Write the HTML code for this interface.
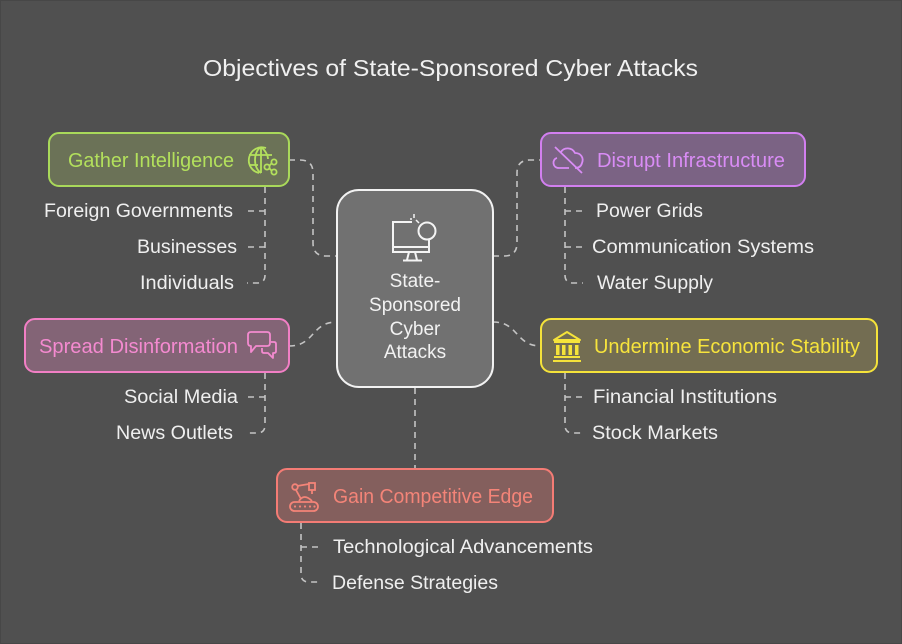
<!DOCTYPE html>
<html><head><meta charset="utf-8"><style>
html,body{margin:0;padding:0;background:#505050;}
svg{display:block;}
text{font-family:"Liberation Sans",Arial,sans-serif;}
</style></head><body>
<svg width="902" height="644" viewBox="0 0 902 644" xmlns="http://www.w3.org/2000/svg">
<rect x="0" y="0" width="902" height="644" fill="#505050"/>
<rect x="0.5" y="0.5" width="901" height="643" fill="none" stroke="#474747" stroke-width="1"/>

<text x="203" y="76" font-size="23" fill="#f0f0f0" textLength="495" lengthAdjust="spacingAndGlyphs">Objectives of State-Sponsored Cyber Attacks</text>

<g fill="none" stroke="#c4c4c4" stroke-width="1.6" stroke-dasharray="6 5">
<path d="M289,160 H300 Q313,160 313,173 V243 Q313,256 326,256 H337"/>
<path d="M493,256 H504 Q517,256 517,243 V173 Q517,160 530,160 H541"/>
<path d="M289,346 C315,346 311,322 337,322"/>
<path d="M493,322 C519,322 515,346 541,346"/>
<path d="M415,388 V468"/>
<path d="M265,187 V275 Q265,283 257,283 H247"/>
<path d="M265,211 H247"/>
<path d="M265,247 H247"/>
<path d="M565,187 V275 Q565,283 573,283 H583"/>
<path d="M565,211 H583"/>
<path d="M565,247 H583"/>
<path d="M265,373 V425 Q265,433 257,433 H247"/>
<path d="M265,397 H247"/>
<path d="M565,373 V425 Q565,433 573,433 H583"/>
<path d="M565,397 H583"/>
<path d="M301,523 V574 Q301,582 309,582 H319"/>
<path d="M301,547 H319"/>
</g>

<!-- center -->
<rect x="337" y="190" width="156" height="197" rx="22" fill="#717171" stroke="#f2f2f2" stroke-width="2"/>
<g fill="none" stroke="#f4f4f4" stroke-width="2">
<path d="M412,222 H393 V252 H429 V240"/>
<path d="M393,247 H429"/>
<circle cx="427" cy="231" r="8.5"/>
<path d="M409,252 L407,260 M415,252 L417,260 M403,260.5 H422"/>
<path d="M414,214 V218 M416,220 L419,223 M410,219 H412" stroke-width="1.5"/>
</g>
<g font-size="19" fill="#f2f2f2" text-anchor="middle">
<text x="415" y="287">State-</text>
<text x="415" y="311">Sponsored</text>
<text x="415" y="335">Cyber</text>
<text x="415" y="358">Attacks</text>
</g>

<!-- Gather Intelligence -->
<rect x="49" y="133" width="240" height="53" rx="10" fill="#6b7257" stroke="#a9d95a" stroke-width="2"/>
<text x="68" y="167" font-size="20" fill="#b3e05c" textLength="166" lengthAdjust="spacingAndGlyphs">Gather Intelligence</text>
<g fill="none" stroke="#b3e05c" stroke-width="1.8">
<path d="M266,148 A13,13 0 1 0 259,173"/>
<path d="M261,147 C253,152 253,168 261,173 M261,147 C266,151 268,156 268,159"/>
<path d="M249,155 H272 M249,165 H258 M261,147 V173"/>
<circle cx="267" cy="167" r="2.6"/>
<circle cx="274" cy="162" r="2.6"/>
<circle cx="274" cy="172" r="2.6"/>
<path d="M269,166 L272,163 M269,168 L272,171"/>
</g>
<g font-size="19" fill="#efefef">
<text x="44" y="217" textLength="189" lengthAdjust="spacingAndGlyphs">Foreign Governments</text>
<text x="137" y="253" textLength="100" lengthAdjust="spacingAndGlyphs">Businesses</text>
<text x="140" y="289" textLength="94" lengthAdjust="spacingAndGlyphs">Individuals</text>
</g>

<!-- Disrupt Infrastructure -->
<rect x="541" y="133" width="264" height="53" rx="10" fill="#7b6384" stroke="#d27ff0" stroke-width="2"/>
<g fill="none" stroke="#d98cf5" stroke-width="1.8">
<path d="M561,152 C564,147 572,147 575,153 C581,153 584,158 582,163 C581,167 578,168 575,168 M569,168 H559 C552,168 552,159 557,158"/>
<path d="M555,147 L582,173"/>
</g>
<text x="597" y="167" font-size="20" fill="#d98cf5" textLength="188" lengthAdjust="spacingAndGlyphs">Disrupt Infrastructure</text>
<g font-size="19" fill="#efefef">
<text x="596" y="217" textLength="107" lengthAdjust="spacingAndGlyphs">Power Grids</text>
<text x="592" y="253" textLength="222" lengthAdjust="spacingAndGlyphs">Communication Systems</text>
<text x="597" y="289" textLength="116" lengthAdjust="spacingAndGlyphs">Water Supply</text>
</g>

<!-- Spread Disinformation -->
<rect x="25" y="319" width="264" height="53" rx="10" fill="#836476" stroke="#f27fc5" stroke-width="2"/>
<text x="39" y="353" font-size="20" fill="#f48ad0" textLength="199" lengthAdjust="spacingAndGlyphs">Spread Disinformation</text>
<g fill="none" stroke="#f48ad0" stroke-width="1.8" stroke-linejoin="round">
<path d="M251,332 H267 Q270,332 270,335 V343 Q270,346 267,346 H256 L251,352 V346 Q248,346 248,343 V335 Q248,332 251,332 Z"/>
<path d="M271,342 H274 Q276,342 276,344 V351 Q276,353 274,353 H273 L273,358 L268,353 H264 Q262,353 262,351 V348"/>
</g>
<g font-size="19" fill="#efefef">
<text x="124" y="403" textLength="114" lengthAdjust="spacingAndGlyphs">Social Media</text>
<text x="116" y="439" textLength="117" lengthAdjust="spacingAndGlyphs">News Outlets</text>
</g>

<!-- Undermine Economic Stability -->
<rect x="541" y="319" width="336" height="53" rx="10" fill="#736d52" stroke="#f5e33a" stroke-width="2"/>
<g fill="#f5e33a" stroke="#f5e33a">
<path d="M554,340 L567,332 L580,340 Z" fill="none" stroke-width="2" stroke-linejoin="round"/>
<rect x="554" y="341" width="26" height="2" stroke="none"/>
<rect x="556" y="345" width="3.5" height="10" stroke="none"/>
<rect x="562" y="345" width="3.5" height="10" stroke="none"/>
<rect x="568.5" y="345" width="3.5" height="10" stroke="none"/>
<rect x="575" y="345" width="3.5" height="10" stroke="none"/>
<rect x="554" y="356" width="26" height="2" stroke="none"/>
<rect x="553" y="360" width="28" height="2" stroke="none"/>
</g>
<text x="594" y="353" font-size="20" fill="#f7e43c" textLength="266" lengthAdjust="spacingAndGlyphs">Undermine Economic Stability</text>
<g font-size="19" fill="#efefef">
<text x="593" y="403" textLength="184" lengthAdjust="spacingAndGlyphs">Financial Institutions</text>
<text x="592" y="439" textLength="126" lengthAdjust="spacingAndGlyphs">Stock Markets</text>
</g>

<!-- Gain Competitive Edge -->
<rect x="277" y="469" width="276" height="53" rx="10" fill="#845f5d" stroke="#f47c75" stroke-width="2"/>
<g fill="none" stroke="#f48478" stroke-width="1.8">
<rect x="290" y="502" width="28" height="9" rx="4.5"/>
<circle cx="295" cy="487" r="2.8"/>
<path d="M297,486 L309,484 M296,490 L301,499"/>
<path d="M299,501 Q304,493 312,501"/>
<rect x="309" y="483" width="6" height="7"/>
<path d="M312,490 V494"/>
</g>
<g fill="#f48478">
<circle cx="295" cy="506.5" r="1.1"/><circle cx="300" cy="506.5" r="1.1"/><circle cx="305" cy="506.5" r="1.1"/><circle cx="310" cy="506.5" r="1.1"/><circle cx="314.5" cy="506.5" r="1.1"/>
</g>
<text x="333" y="503" font-size="20" fill="#f48478" textLength="200" lengthAdjust="spacingAndGlyphs">Gain Competitive Edge</text>
<g font-size="19" fill="#efefef">
<text x="333" y="553" textLength="260" lengthAdjust="spacingAndGlyphs">Technological Advancements</text>
<text x="332" y="589" textLength="166" lengthAdjust="spacingAndGlyphs">Defense Strategies</text>
</g>
</svg>
</body></html>
